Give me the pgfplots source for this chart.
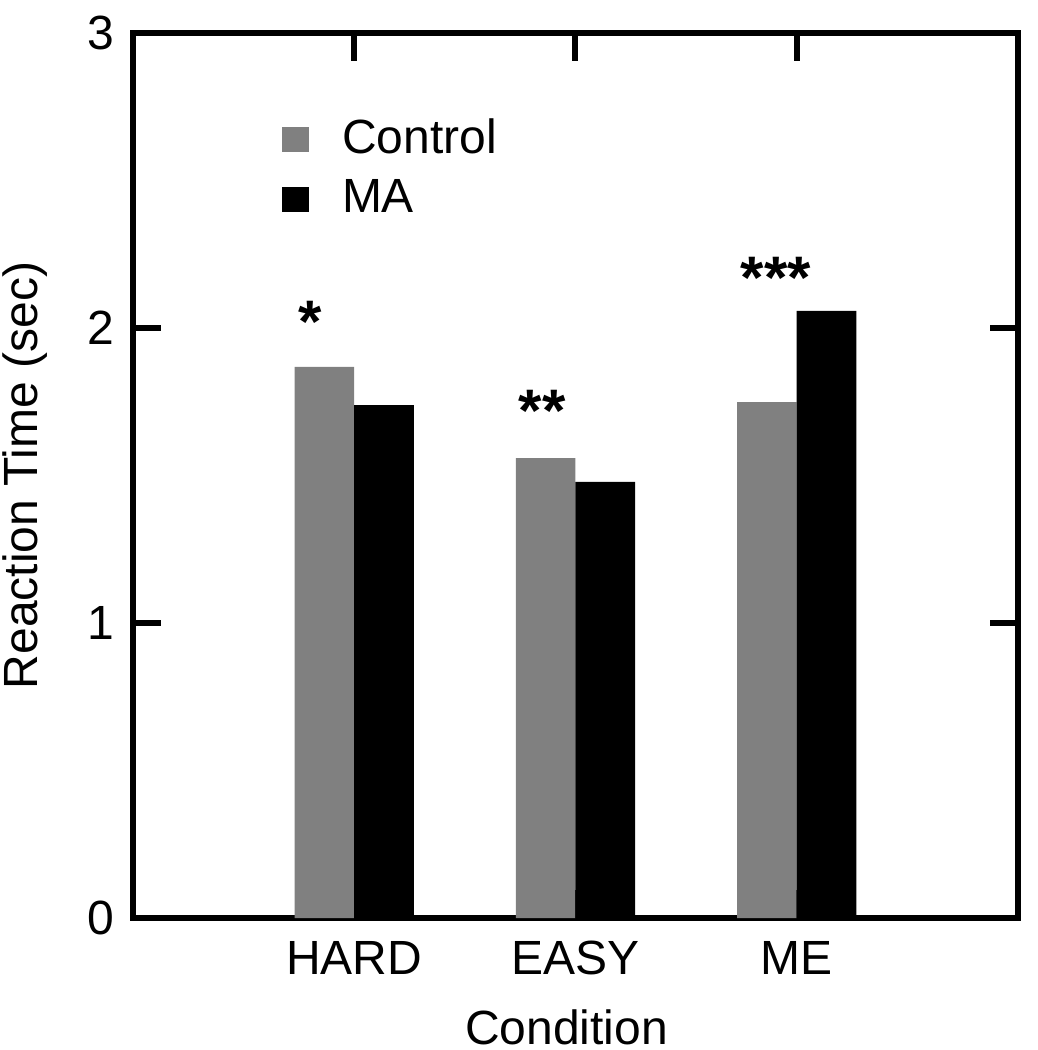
\documentclass[border=0pt]{standalone}
\usepackage{fontspec}
\setmainfont{Liberation Sans}
\usepackage{pgfplots}
\pgfplotsset{compat=1.18}
\definecolor{ctrlgray}{RGB}{128,128,128}
\begin{document}
\fontsize{12}{14.4}\selectfont
\begin{tikzpicture}
\useasboundingbox (-33.25pt,-33pt) rectangle (226.25pt,229.5pt);
\begin{axis}[
  at={(0,0)}, anchor=south west,
  scale only axis, width=221.25pt, height=221.25pt,
  xmin=0, xmax=4, ymin=0, ymax=3,
  xtick={1,2,3}, xticklabels={HARD,EASY,ME},
  ytick={0,1,2,3},
  xtick pos=both, ytick pos=both,
  line width=1.5pt,
  /pgf/number format/assume math mode=true,
  ticklabel style={font=\fontsize{12}{14.4}\selectfont},
  xticklabel style={yshift=-1pt},
  label style={font=\fontsize{12}{14.4}\selectfont},
  xlabel={Condition},
  ylabel={Reaction Time (sec)},
  x label style={at={(axis description cs:0.49,-0.123)},anchor=center},
  y label style={at={(axis description cs:-0.122,0.5)},anchor=center},
  legend style={at={(axis description cs:0.165,0.907)}, anchor=north west,
    draw=none, fill=none, inner sep=0pt, row sep=4.75pt, column sep=8.25pt,
    font=\fontsize{12}{14.4}\selectfont,
    nodes={inner sep=0pt}, cells={anchor=west}},
  tick align=inside,
  major tick length=7pt,
  major tick style={line width=1.5pt, black},
]
\addplot[ybar, bar width=0.27, fill=ctrlgray, draw=none, bar shift=-0.135,
  legend image code/.code={\fill[ctrlgray] (0pt,-3.25pt) rectangle (6.75pt,3.0pt);}]
  coordinates {(1,1.868) (2,1.559) (3,1.749)};
\addplot[ybar, bar width=0.27, fill=black, draw=none, bar shift=0.135,
  legend image code/.code={\fill[black] (0pt,-3.25pt) rectangle (6.75pt,3.0pt);}]
  coordinates {(1,1.739) (2,1.478) (3,2.058)};
\legend{Control,MA}
\draw[line width=1.5pt, black] (axis cs:0,1) -- ++(7pt,0pt);
\draw[line width=1.5pt, black] (axis cs:0,2) -- ++(7pt,0pt);
\node[font=\fontsize{15}{17}\selectfont\bfseries, inner sep=0pt] at (axis cs:0.80,2.02) {*};
\node[font=\fontsize{15}{17}\selectfont\bfseries, inner sep=0pt] at (axis cs:1.85,1.72) {**};
\node[font=\fontsize{15}{17}\selectfont\bfseries, inner sep=0pt] at (axis cs:2.906,2.17) {***};
\end{axis}
\end{tikzpicture}
\end{document}
